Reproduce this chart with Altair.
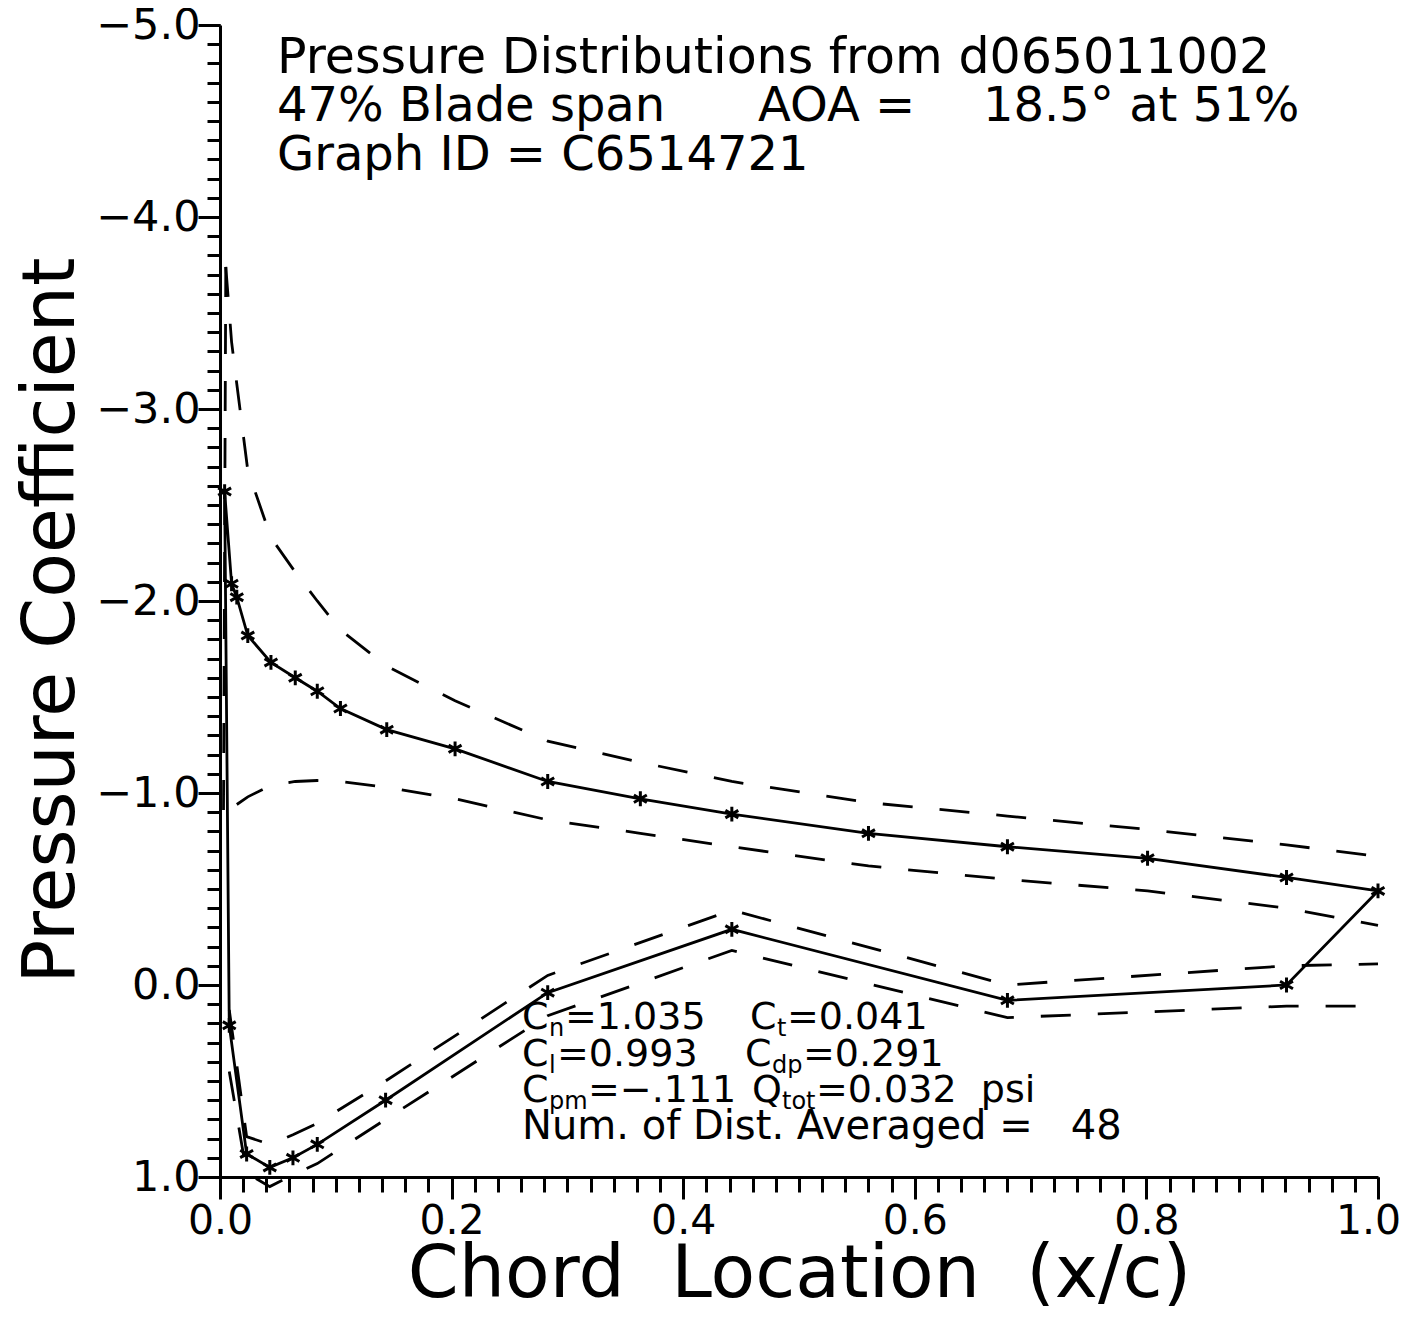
import altair as alt
import pandas as pd

# ---------------- data ----------------
# upper surface stations (x/c) and mean / band pressure coefficients
upper_x = [0.004, 0.010, 0.0145, 0.024, 0.044, 0.065, 0.084, 0.104, 0.144,
           0.203, 0.283, 0.363, 0.442, 0.560, 0.680, 0.801, 0.921, 1.0]
upper_mean = [-2.57, -2.09, -2.02, -1.82, -1.68, -1.60, -1.53, -1.44, -1.33,
              -1.23, -1.06, -0.97, -0.89, -0.79, -0.72, -0.66, -0.56, -0.49]
upper_hi_x = [0.005] + upper_x[1:]
upper_hi = [-3.74, -3.35, -3.13, -2.68, -2.33, -2.15, -2.00, -1.85, -1.66,
            -1.48, -1.27, -1.16, -1.06, -0.95, -0.88, -0.81, -0.73, -0.67]
upper_lo_x = [0.005, 0.003] + upper_x[1:]
upper_lo = [-3.74, -0.87, -0.91, -0.94, -0.98, -1.04, -1.06, -1.065, -1.06, -1.03,
            -0.97, -0.86, -0.79, -0.72, -0.62, -0.55, -0.49, -0.40, -0.31]

# lower surface stations
lower_x = [0.008, 0.023, 0.043, 0.063, 0.084, 0.143, 0.283, 0.442, 0.680, 0.921]
lower_mean = [0.21, 0.88, 0.95, 0.90, 0.83, 0.60, 0.04, -0.29, 0.08, 0.00]
lower_band_x = [0.008, 0.023, 0.043, 0.063, 0.084, 0.143, 0.283, 0.442, 0.680, 0.921, 1.0]
lower_hi = [0.13, 0.79, 0.83, 0.78, 0.72, 0.50, -0.05, -0.39, 0.00, -0.10, -0.11]
lower_lo = [0.45, 0.98, 1.05, 0.99, 0.93, 0.70, 0.16, -0.18, 0.17, 0.11, 0.11]

x_major = [0.0, 0.2, 0.4, 0.6, 0.8, 1.0]
x_minor = [round(i * 0.02, 2) for i in range(51)]
y_major = [-5.0, -4.0, -3.0, -2.0, -1.0, 0.0, 1.0]
y_minor = [round(-5.0 + i * 0.1, 1) for i in range(61)]

NB = "\u00a0"
title_lines = ["Pressure Distributions from d065011002",
               "47% Blade span", "AOA =", "18.5° at 51%",
               "Graph ID = C6514721"]
x_title = "Chord" + NB * 2 + "Location" + NB * 2 + "(x/c)"
y_title = "Pressure Coefficient"

FONT = "DejaVu Sans"

# ---------------- tables ----------------
# mean curve: closed path TE -> upper surface -> LE -> lower surface -> TE
mx = list(reversed(upper_x)) + lower_x + [upper_x[-1]]
my = list(reversed(upper_mean)) + lower_mean + [upper_mean[-1]]
mean_df = pd.DataFrame({"x": mx, "cp": my, "i": range(len(mx))})

stars_df = pd.DataFrame({"x": upper_x + lower_x, "cp": upper_mean + lower_mean})

band_rows = []
for name, xs, ys in [("uh", upper_hi_x, upper_hi), ("ul", upper_lo_x, upper_lo),
                     ("lh", lower_band_x, lower_hi), ("ll", lower_band_x, lower_lo)]:
    for k, (a, b) in enumerate(zip(xs, ys)):
        band_rows.append({"series": name, "x": a, "cp": b, "i": k})
band_df = pd.DataFrame(band_rows)

xscale = alt.Scale(domain=[0, 1], nice=False, zero=False)
yscale = alt.Scale(domain=[-5, 1], nice=False, zero=False, reverse=True)

ylabel_expr = "datum.value < 0 ? '\u2212' + format(-datum.value, '.1f') : format(datum.value, '.1f')"

x_axis_major = alt.Axis(values=x_major, format=".1f", orient="bottom", grid=False,
                        tickSize=22, tickWidth=3, tickColor="black",
                        domainWidth=3, domainColor="black",
                        labelFontSize=41, labelFont=FONT, labelColor="black",
                        labelPadding=2, labelFlush=False,
                        labelOffset={"condition": {"test": "datum.value == 1", "value": -10},
                                     "value": 0},
                        title=x_title, titleFontSize=73,
                        titleFont=FONT, titleFontWeight="normal", titleColor="black",
                        titleBaseline="alphabetic", titleY=119, titleX=579,
                        titleAnchor="middle", titleAlign="center")
y_axis_major = alt.Axis(values=y_major, orient="left", grid=False,
                        labelExpr=ylabel_expr,
                        tickSize=22, tickWidth=3, tickColor="black",
                        domainWidth=3, domainColor="black",
                        labelFontSize=43, labelFont=FONT, labelColor="black",
                        labelPadding=-2, labelFlush=False, labelBaseline="middle",
                        title=y_title, titleFontSize=73,
                        titleFont=FONT, titleFontWeight="normal", titleColor="black",
                        titleAngle=-90, titleBaseline="alphabetic",
                        titleX=-147, titleY=595, titleAlign="center")
x_axis_minor = alt.Axis(values=x_minor, orient="bottom", grid=False, labels=False,
                        domain=False, tickSize=15, tickWidth=3, tickColor="black",
                        title=None)
y_axis_minor = alt.Axis(values=y_minor, orient="left", grid=False, labels=False,
                        domain=False, tickSize=13, tickWidth=3, tickColor="black",
                        title=None)

bands = alt.Chart(band_df).mark_line(
    color="black", strokeWidth=2.8, strokeDash=[30, 27], strokeCap="butt"
).encode(
    x=alt.X("x:Q", scale=xscale, axis=x_axis_major),
    y=alt.Y("cp:Q", scale=yscale, axis=y_axis_major),
    detail="series:N",
    order="i:Q",
)

mean_line = alt.Chart(mean_df).mark_line(color="black", strokeWidth=2.8).encode(
    x=alt.X("x:Q", scale=xscale, axis=x_axis_minor),
    y=alt.Y("cp:Q", scale=yscale, axis=y_axis_minor),
    order="i:Q",
)

star_path = "M0,-1L0,1M-0.87,-0.5L0.87,0.5M-0.87,0.5L0.87,-0.5"
stars = alt.Chart(stars_df).mark_point(
    shape=star_path, filled=False, color="black", strokeWidth=3, size=220, opacity=1
).encode(
    x=alt.X("x:Q", scale=xscale, axis=None),
    y=alt.Y("cp:Q", scale=yscale, axis=None),
)

dummy = pd.DataFrame({"a": [0]})


def label(text, px, py, size):
    return alt.Chart(dummy).mark_text(
        text=text, font=FONT, fontSize=size, color="black",
        align="left", baseline="alphabetic"
    ).encode(x=alt.value(px), y=alt.value(py))


texts = [
    label(title_lines[0], 57, 48, 49),
    label(title_lines[1], 57, 96, 48),
    label(title_lines[2], 538, 96, 48),
    label(title_lines[3], 763, 96, 48),
    label(title_lines[4], 57, 145, 48),
]

ann_rows = [
    # (main, subscript, rest, x_main, x_sub, x_rest, baseline)
    ("C", "n", "=1.035", 302, 329, 345, 1004),
    ("C", "t", "=0.041", 530, 557, 567, 1004),
    ("C", "l", "=0.993", 302, 329, 337, 1041),
    ("C", "dp", "=0.291", 525, 552, 583, 1041),
    ("C", "pm", "=\u2212.111", 302, 329, 368, 1077),
    ("Q", "tot", "=0.032" + NB * 2 + "psi", 532, 562, 596, 1077),
]
for m, s, r, xm, xs, xr, yb in ann_rows:
    texts.append(label(m, xm, yb, 38))
    texts.append(label(s, xs, yb + 7, 24))
    texts.append(label(r, xr, yb, 38))
texts.append(label("Num." + NB + "of" + NB + "Dist." + NB + "Averaged" + NB + "=" + NB * 3 + "48",
                   302, 1114, 40))

chart = alt.layer(bands, mean_line, stars, *texts).resolve_axis(
    x="independent", y="independent"
).properties(
    width=1158, height=1152,
    autosize=alt.AutoSizeParams(type="none"),
    padding={"left": 212, "top": 17, "right": 22, "bottom": 134},
    background="white",
).configure_view(stroke=None)

chart.save("out.html", embed_options={"renderer": "svg", "actions": False})
